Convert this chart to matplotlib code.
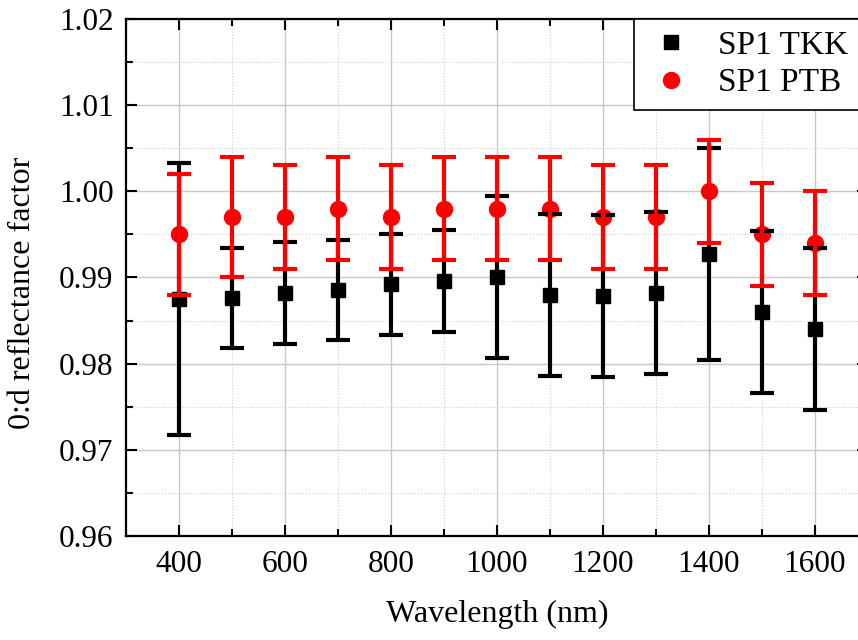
import matplotlib.pyplot as plt
import matplotlib.ticker as ticker
from matplotlib.lines import Line2D

wavelength = [400, 500, 600, 700, 800, 900, 1000, 1100, 1200, 1300, 1400, 1500, 1600]
tkk = [0.9875, 0.9876, 0.9882, 0.9885, 0.9892, 0.9896, 0.9901, 0.9880, 0.9878, 0.9882, 0.9927, 0.9860, 0.9840]
tkk_err = [0.0158, 0.0058, 0.0059, 0.0058, 0.0059, 0.0059, 0.0094, 0.0094, 0.0094, 0.0094, 0.0123, 0.0094, 0.0094]
ptb = [0.995, 0.997, 0.997, 0.998, 0.997, 0.998, 0.998, 0.998, 0.997, 0.997, 1.000, 0.995, 0.994]
ptb_err = [0.007, 0.007, 0.006, 0.006, 0.006, 0.006, 0.006, 0.006, 0.006, 0.006, 0.006, 0.006, 0.006]

plt.rcParams['font.family'] = ['Liberation Serif', 'DejaVu Serif']

fig = plt.figure(figsize=(8.58, 6.4), dpi=100)
# right spine lies just past the picture edge (x axis runs to 1700)
ax = fig.add_axes([126/858, 1-536/640, (868-126)/858, (536-19)/640])

# markers and bars on separate layers so the overlaps look like the original
ax.plot(wavelength, tkk, 's', color='black', ms=10, zorder=2)
ax.plot(wavelength, ptb, 'o', color='red', ms=11.5, zorder=3)
ax.errorbar(wavelength, tkk, yerr=tkk_err, fmt='none', ecolor='black',
            elinewidth=3, capsize=8.5, capthick=3, zorder=4)
ax.errorbar(wavelength, ptb, yerr=ptb_err, fmt='none', ecolor='red',
            elinewidth=3, capsize=8.5, capthick=3, zorder=5)

ax.set_xlim(300, 1700)
ax.set_ylim(0.96, 1.02)
ax.xaxis.set_major_locator(ticker.MultipleLocator(200))
ax.xaxis.set_minor_locator(ticker.MultipleLocator(100))
ax.yaxis.set_major_locator(ticker.MultipleLocator(0.01))
ax.yaxis.set_minor_locator(ticker.MultipleLocator(0.005))
ax.yaxis.set_major_formatter(ticker.FormatStrFormatter('%.2f'))

ax.grid(which='major', color='#c8c8c8', linewidth=1, linestyle='-')
ax.grid(which='minor', color='#d0d0d0', linewidth=0.8, linestyle=':')
ax.set_axisbelow(True)

ax.tick_params(which='both', direction='in', top=True, right=True, labelsize=22.5, width=1.5)
ax.tick_params(which='major', length=8)
ax.tick_params(which='minor', length=5)
ax.tick_params(axis='x', pad=10)
ax.tick_params(axis='y', pad=9)
for s in ax.spines.values():
    s.set_linewidth(1.6)

ax.set_xlabel('Wavelength (nm)', fontsize=23, labelpad=15)
ax.set_ylabel('0:d reflectance factor', fontsize=23)
ax.yaxis.set_label_coords(-0.12, 0.47)

handles = [Line2D([], [], marker='s', color='black', ls='none', ms=10),
           Line2D([], [], marker='o', color='red', ls='none', ms=11.5)]
leg = ax.legend(handles, ['SP1 TKK', 'SP1 PTB'], loc='upper left',
                bbox_to_anchor=(634/858, 1-19/640), bbox_transform=fig.transFigure,
                fontsize=24, frameon=True, fancybox=False, edgecolor='black',
                framealpha=1, handlelength=1.54, handletextpad=0.62,
                borderpad=0.35, labelspacing=0.2, borderaxespad=0)
leg.get_frame().set_linewidth(1.2)

fig.savefig('out.png', dpi=100)
